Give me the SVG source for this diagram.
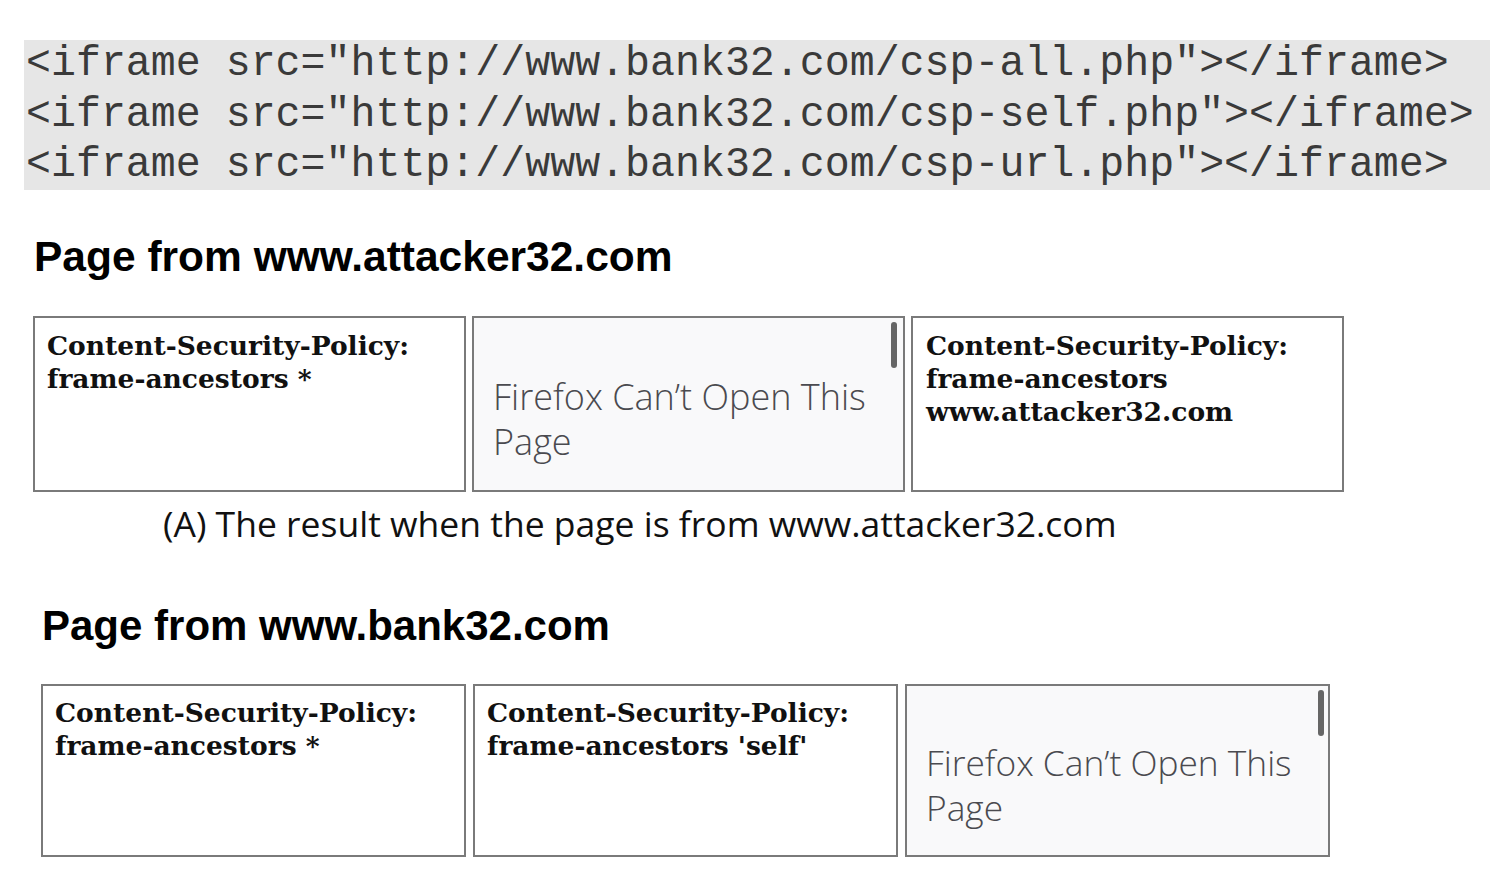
<svg xmlns="http://www.w3.org/2000/svg" width="1506" height="876" viewBox="0 0 1506 876">
<style>
.code{font-family:"Liberation Mono","Courier New",monospace;font-size:41.6px;fill:#3a3a3a}
.h{font-family:"Liberation Sans",Arial,sans-serif;font-weight:bold;font-size:42.5px;fill:#000}
.box{fill:#fff;stroke:#7a7a7a;stroke-width:2}
.err{fill:#f9f9fa;stroke:#7a7a7a;stroke-width:2}
.csp{font-family:"DejaVu Serif",serif;font-weight:bold;font-size:26.5px;fill:#111}
.ff{font-family:"Open Sans","Noto Sans",sans-serif;font-weight:300;font-size:36px;fill:#4a4a4f}
.sb{fill:#666}
.cap{font-family:"Open Sans","Noto Sans",sans-serif;font-size:35.5px;fill:#111}
</style>
<rect x="24" y="40" width="1466" height="150" fill="#e6e6e6"/>
<g id="code">
<text class="code" x="26" y="75">&lt;iframe src="http://www.bank32.com/csp-all.php"&gt;&lt;/iframe&gt;</text>
<text class="code" x="26" y="126">&lt;iframe src="http://www.bank32.com/csp-self.php"&gt;&lt;/iframe&gt;</text>
<text class="code" x="26" y="176">&lt;iframe src="http://www.bank32.com/csp-url.php"&gt;&lt;/iframe&gt;</text>
</g>
<text class="h" x="34" y="271">Page from www.attacker32.com</text>
<g id="a1"><rect class="box" x="34" y="317" width="431" height="174"/>
<text class="csp" x="47" y="355">Content-Security-Policy:</text>
<text class="csp" x="47" y="388">frame-ancestors *</text></g>
<g id="a2"><rect class="err" x="473" y="317" width="431" height="174"/>
<rect class="sb" x="891" y="322" width="6" height="46" rx="3"/>
<text class="ff" x="493" y="410">Firefox Can’t Open This</text>
<text class="ff" x="493" y="455">Page</text></g>
<g id="a3"><rect class="box" x="912" y="317" width="431" height="174"/>
<text class="csp" x="926" y="355">Content-Security-Policy:</text>
<text class="csp" x="926" y="388">frame-ancestors</text>
<text class="csp" x="926" y="421">www.attacker32.com</text></g>
<text class="cap" x="163" y="537">(A) The result when the page is from www.attacker32.com</text>
<text class="h" x="42" y="640" style="font-size:42px">Page from www.bank32.com</text>
<g id="b1"><rect class="box" x="42" y="685" width="423" height="171"/>
<text class="csp" x="55" y="722">Content-Security-Policy:</text>
<text class="csp" x="55" y="755">frame-ancestors *</text></g>
<g id="b2"><rect class="box" x="474" y="685" width="423" height="171"/>
<text class="csp" x="487" y="722">Content-Security-Policy:</text>
<text class="csp" x="487" y="755">frame-ancestors 'self'</text></g>
<g id="b3"><rect class="err" x="906" y="685" width="423" height="171"/>
<rect class="sb" x="1318" y="690" width="6" height="46" rx="3"/>
<text class="ff" x="926" y="776" style="font-size:35.3px">Firefox Can’t Open This</text>
<text class="ff" x="926" y="821" style="font-size:35.3px">Page</text></g>
</svg>
